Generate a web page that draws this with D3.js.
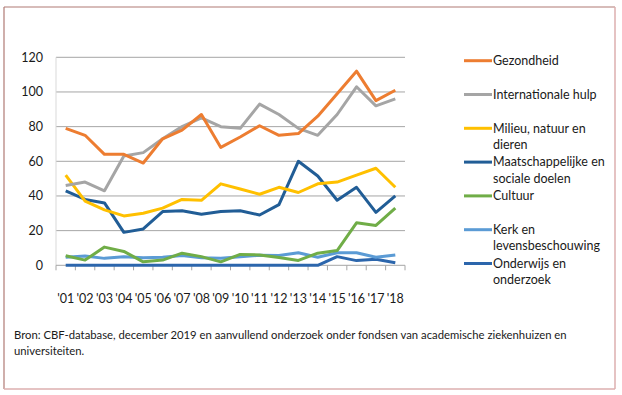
<!DOCTYPE html>
<html>
<head>
<meta charset="utf-8">
<script src="https://cdn.jsdelivr.net/npm/d3@7"></script>
<style>
  html, body { margin: 0; padding: 0; background: #fff; }
  svg text { font-family: Lato, "Open Sans", sans-serif; fill: #1a1a1a; }
</style>
</head>
<body>
<div id="chart"></div>
<script>
// categories (years)
const years = ["'01", "'02", "'03", "'04", "'05", "'06", "'07", "'08", "'09",
  "'10", "'11", "'12", "'13", "'14", "'15", "'16", "'17", "'18"];

// series values
const gezondheid = [79, 75, 64, 64, 59, 73, 78, 87, 68, 74, 80.5, 75, 76, 86, 99, 112, 95, 101];
const internationaleHulp = [46, 48, 43, 63, 65, 73, 80, 85, 80, 79, 93, 87, 79, 75, 87, 103, 92, 96];
const milieu = [52, 37, 32, 28.5, 30, 33, 38, 37.5, 47, 44, 41, 45, 42, 47, 48, 52, 56, 45];
const maatschappelijk = [43, 38, 36, 19, 21, 31, 31.5, 29.5, 31, 31.5, 29, 35, 60, 51.5, 37.5, 45, 30.5, 40];
const cultuur = [5.5, 3, 10.5, 8, 2, 3, 7, 5, 2, 6.3, 6, 4.5, 2.8, 7, 8.5, 24.5, 23, 33];
const kerk = [4.6, 5.4, 4, 5, 4.4, 4.6, 5.6, 4.4, 4, 5, 5.8, 5.6, 7.2, 4.6, 7.2, 7.2, 4.6, 6];
const onderwijs = [0, 0, 0, 0, 0, 0, 0, 0, 0, 0, 0, 0, 0, 0, 5, 2.7, 3.5, 1.5];

const yTicks = [0, 20, 40, 60, 80, 100, 120];

const series = [
  { name: ["Gezondheid"], values: gezondheid, color: "#ED7D31" },
  { name: ["Internationale hulp"], values: internationaleHulp, color: "#A5A5A5" },
  { name: ["Milieu, natuur en", "dieren"], values: milieu, color: "#FFC000" },
  { name: ["Maatschappelijke en", "sociale doelen"], values: maatschappelijk, color: "#215D96" },
  { name: ["Cultuur"], values: cultuur, color: "#70AD47" },
  { name: ["Kerk en", "levensbeschouwing"], values: kerk, color: "#5B9BD5" },
  { name: ["Onderwijs en", "onderzoek"], values: onderwijs, color: "#2C66AC" },
];

const width = 622, height = 395;
const svg = d3.select("#chart").append("svg")
  .attr("width", width).attr("height", height);

// frame
svg.append("line").attr("x1", 4).attr("y1", 7).attr("x2", 615).attr("y2", 7)
  .attr("stroke", "#B07A74").attr("stroke-width", 1.2);
svg.append("line").attr("x1", 4).attr("y1", 7).attr("x2", 4).attr("y2", 389)
  .attr("stroke", "#B07A74").attr("stroke-width", 1.2);
svg.append("line").attr("x1", 615).attr("y1", 7).attr("x2", 615).attr("y2", 389)
  .attr("stroke", "#DDAFAF").attr("stroke-width", 1.5);
svg.append("line").attr("x1", 4).attr("y1", 389).attr("x2", 615).attr("y2", 389)
  .attr("stroke", "#DDAFAF").attr("stroke-width", 1.5);

const x = d3.scaleBand().domain(years).range([56, 405]);
const y = d3.scaleLinear().domain([0, 120]).range([265.3, 57.3]);

// gridlines
svg.append("g")
  .selectAll("line")
  .data(yTicks.filter((t) => t > 0))
  .enter()
  .append("line")
  .attr("x1", 56).attr("x2", 405)
  .attr("y1", (t) => y(t)).attr("y2", (t) => y(t))
  .attr("stroke", "#A6A6A6").attr("stroke-width", 1);

// left axis line
svg.append("line")
  .attr("x1", 56).attr("x2", 56)
  .attr("y1", y(120)).attr("y2", y(0))
  .attr("stroke", "#D9D9D9").attr("stroke-width", 1);

// y labels
svg.append("g")
  .selectAll("text")
  .data(yTicks)
  .enter()
  .append("text")
  .attr("x", 43)
  .attr("y", (t) => y(t))
  .attr("dy", "0.35em")
  .attr("text-anchor", "end")
  .style("font-size", "12.5px")
  .text((t) => t);

// x axis
const xAxis = svg.append("g").attr("transform", `translate(0,${y(0)})`);
xAxis.append("line").attr("x1", 56).attr("x2", 405)
  .attr("stroke", "#A6A6A6").attr("stroke-width", 1);
xAxis.selectAll("line.tick")
  .data(years.concat(["end"]))
  .enter()
  .append("line")
  .attr("class", "tick")
  .attr("x1", (d, i) => 56 + i * x.step())
  .attr("x2", (d, i) => 56 + i * x.step())
  .attr("y1", 0).attr("y2", 5)
  .attr("stroke", "#A6A6A6");
xAxis.selectAll("text")
  .data(years)
  .enter()
  .append("text")
  .attr("x", (d) => x(d) + x.bandwidth() / 2)
  .attr("y", 33)
  .attr("dy", "0.35em")
  .attr("text-anchor", "middle")
  .style("font-size", "12.5px")
  .text((d) => d);

// lines
const line = d3.line()
  .x((d, i) => x(years[i]) + x.bandwidth() / 2)
  .y((d) => y(d));

svg.append("g")
  .selectAll("path")
  .data(series.slice().reverse())
  .enter()
  .append("path")
  .attr("d", (s) => line(s.values))
  .attr("fill", "none")
  .attr("stroke", (s) => s.color)
  .attr("stroke-width", 3)
  .attr("stroke-linejoin", "round");

// legend
const legend = svg.append("g")
  .selectAll("g")
  .data(series)
  .enter()
  .append("g")
  .attr("transform", (s, i) => `translate(464,${60.7 + i * 33.8})`);
legend.append("line")
  .attr("x1", 0).attr("x2", 28)
  .attr("stroke", (s) => s.color)
  .attr("stroke-width", 3);
legend.append("text")
  .attr("x", 29)
  .style("font-size", "12.5px")
  .selectAll("tspan")
  .data((s) => s.name)
  .enter()
  .append("tspan")
  .attr("x", 29)
  .attr("y", (d, i) => i * 16.3)
  .attr("dy", "0.35em")
  .text((d) => d);

// source note
const note = svg.append("text").style("font-size", "11.3px");
note.append("tspan").attr("x", 14).attr("y", 335).attr("dy", "0.35em")
  .text("Bron: CBF-database, december 2019 en aanvullend onderzoek onder fondsen van academische ziekenhuizen en");
note.append("tspan").attr("x", 14).attr("y", 351.5).attr("dy", "0.35em")
  .text("universiteiten.");
</script>
</body>
</html>
